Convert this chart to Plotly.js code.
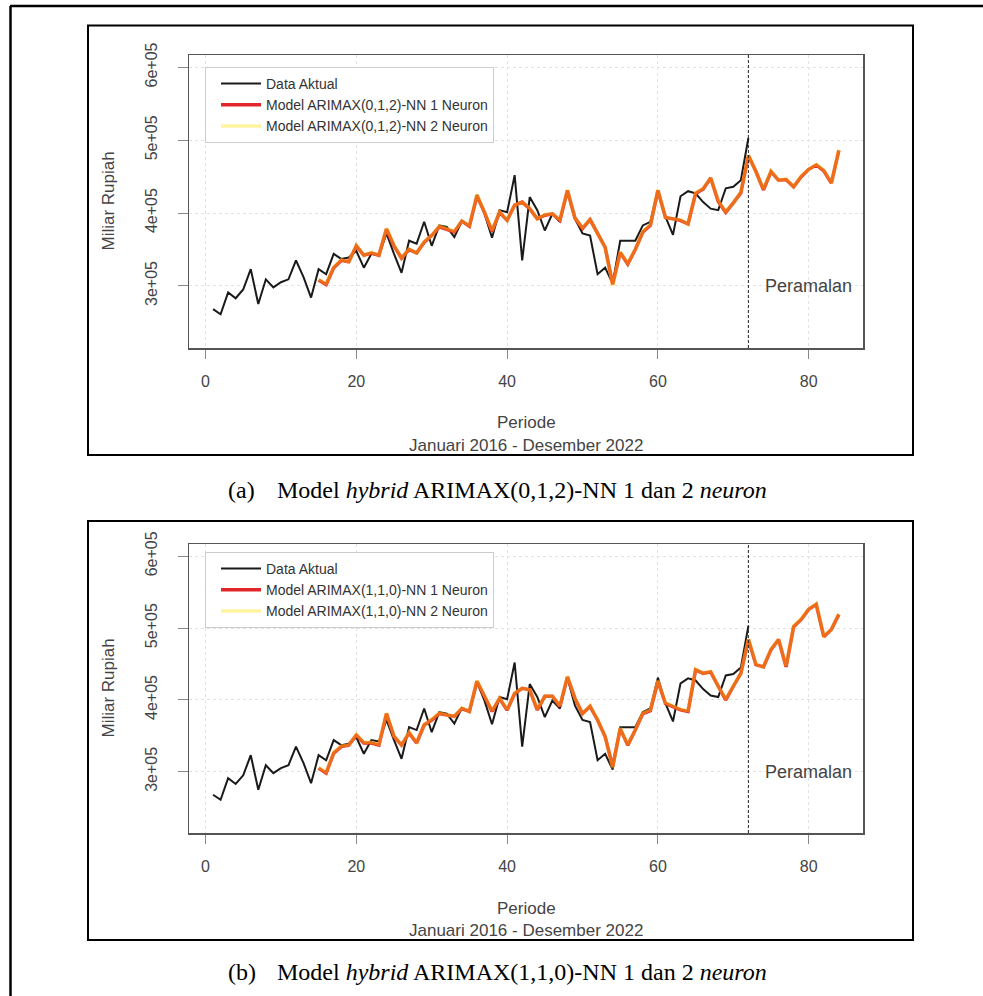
<!DOCTYPE html>
<html><head><meta charset="utf-8">
<script src="https://cdn.plot.ly/plotly-3.0.1.min.js"></script>
<style>html,body{margin:0;padding:0;background:#fff;}#chart{width:983px;height:996px;}</style>
</head><body><div id="chart"></div>
<script>
// ---------- data ----------
const periodActual = [1,2,3,4,5,6,7,8,9,10,11,12,13,14,15,16,17,18,19,20,21,22,23,24,25,26,27,28,29,30,31,32,33,34,35,36,37,38,39,40,41,42,43,44,45,46,47,48,49,50,51,52,53,54,55,56,57,58,59,60,61,62,63,64,65,66,67,68,69,70,71,72];
const actualSales = [268000,261000,291000,283000,295000,323000,275000,309000,298000,305000,
  309000,335000,312000,284000,323000,316000,344000,337000,339000,348000,
  325000,344000,342000,372000,344000,318000,362000,358000,388000,355000,
  383000,381000,367000,389000,383000,425000,399000,366000,404000,401000,
  452000,335000,422000,404000,376000,399000,388000,431000,392000,372000,
  369000,316000,325000,303000,362000,362000,362000,383000,388000,431000,
  395000,370000,423000,430000,427000,415000,406000,404000,434000,436000,445000,503000];
const periodModel = [15,16,17,18,19,20,21,22,23,24,25,26,27,28,29,30,31,32,33,34,35,36,37,38,39,40,41,42,43,44,45,46,47,48,49,50,51,52,53,54,55,56,57,58,59,60,61,62,63,64,65,66,67,68,69,70,71,72,73,74,75,76,77,78,79,80,81,82,83,84];
// (a) ARIMAX(0,1,2)-NN
const modelA1Neuron = [308000,302000,325000,335000,333000,355000,342000,345000,342000,378000,
  355000,338000,350000,345000,360000,369000,381000,378000,374000,389000,
  382000,424000,401000,375000,401000,390000,411000,415000,406000,392000,
  397000,399000,390000,431000,393000,379000,391000,372000,353000,302000,
  346000,330000,350000,374000,383000,431000,394000,392000,390000,385000,
  427000,433000,448000,416000,401000,414000,428000,479000,457000,432000,
  457000,445000,446000,436000,450000,460000,466000,458000,441000,486000];
const modelA2Neuron = [309000,303000,326000,336000,333000,356000,342000,346000,342000,379000,
  356000,338000,351000,345000,361000,369000,382000,378000,375000,389000,
  383000,426000,401000,376000,402000,390000,411000,415000,407000,392000,
  398000,399000,391000,432000,393000,380000,391000,373000,353000,300000,
  347000,331000,350000,375000,384000,432000,394000,392000,391000,385000,
  428000,434000,448000,417000,402000,414000,429000,480000,457000,433000,
  458000,445000,447000,436000,451000,460000,467000,459000,441000,487000];
// (b) ARIMAX(1,1,0)-NN
const modelB1Neuron = [305000,298000,326000,335000,337000,351000,340000,340000,337000,381000,
  349000,337000,354000,340000,365000,372000,381000,379000,377000,388000,
  384000,426000,405000,384000,402000,386000,409000,416000,414000,386000,
  405000,405000,391000,432000,402000,381000,391000,372000,349000,307000,
  360000,337000,358000,381000,385000,426000,395000,391000,386000,384000,
  442000,437000,439000,419000,400000,419000,437000,484000,449000,446000,
  470000,484000,446000,502000,512000,526000,533000,488000,498000,519000];
const modelB2Neuron = [306000,299000,327000,336000,337000,352000,341000,341000,338000,382000,
  350000,337000,355000,341000,365000,373000,382000,379000,377000,389000,
  384000,427000,405000,385000,403000,387000,410000,416000,414000,387000,
  405000,405000,392000,433000,402000,381000,392000,373000,349000,305000,
  361000,338000,358000,382000,386000,427000,396000,391000,387000,385000,
  443000,437000,440000,419000,401000,420000,437000,485000,450000,446000,
  471000,484000,447000,503000,513000,526000,534000,489000,498000,520000];

const xTickVals = [0, 20, 40, 60, 80];
const yTickVals = [300000, 400000, 500000, 600000];
const yTickText = ['3e+05', '4e+05', '5e+05', '6e+05'];
const forecastStart = 72;
const forecastText = 'Peramalan';
const forecastTextPos = [80, 300000];
const seriesNamesA = ['Data Aktual', 'Model ARIMAX(0,1,2)-NN 1 Neuron', 'Model ARIMAX(0,1,2)-NN 2 Neuron'];
const seriesNamesB = ['Data Aktual', 'Model ARIMAX(1,1,0)-NN 1 Neuron', 'Model ARIMAX(1,1,0)-NN 2 Neuron'];
const captionLabels = ['(a)', '(b)'];
const captionTexts = ['Model <i>hybrid</i> ARIMAX(0,1,2)-NN 1 dan 2 <i>neuron</i>',
                      'Model <i>hybrid</i> ARIMAX(1,1,0)-NN 1 dan 2 <i>neuron</i>'];
const xTitle1 = 'Periode';
const xTitle2 = 'Januari 2016 - Desember 2022';
const yTitle = 'Miliar Rupiah';

// ---------- styling / layout ----------
const W = 983, H = 996;
const fx = p => p / W;
const fy = p => 1 - p / H;
const SANS = 'Liberation Sans, Arial, sans-serif';
const SERIF = 'Liberation Serif, Times New Roman, serif';
const TXT = '#444';
const C_ACT = '#1a1a1a', C_RED = '#e3262b', C_YEL = 'rgba(255,226,0,0.38)';

// pixel geometry of the two panels
const P = [
  {boxTop: 55, boxBot: 348, frameTop: 25.5, frameBot: 455, capY: 490, legTop: 67},
  {boxTop: 544, boxBot: 833, frameTop: 521, frameBot: 940, capY: 972, legTop: 552}
];
const boxL = 189, boxR = 863;

function xAxis(i){
  return {
    domain: [fx(boxL), fx(boxR)], range: [-2.19, 87.2], anchor: i ? 'y2' : 'y',
    tickmode: 'array', tickvals: xTickVals, ticktext: xTickVals.map(String),
    ticks: 'outside', ticklen: 9, tickwidth: 1, tickcolor: '#888', ticklabelstandoff: 9,
    showline: true, mirror: true, linecolor: '#555', linewidth: 1.5,
    showgrid: true, gridcolor: '#e2e2e2', griddash: 'dot', gridwidth: 1,
    zeroline: false, fixedrange: true,
    tickfont: {family: SANS, size: 16, color: TXT}
  };
}
function yAxis(i){
  return {
    domain: [fy(P[i].boxBot), fy(P[i].boxTop)], range: [214700, 617000], anchor: i ? 'x2' : 'x',
    tickmode: 'array', tickvals: yTickVals, ticktext: yTickText, tickangle: -90,
    ticks: 'outside', ticklen: 10, tickwidth: 1, tickcolor: '#888', ticklabelstandoff: 14,
    showline: true, mirror: true, linecolor: '#555', linewidth: 1.5,
    showgrid: true, gridcolor: '#e2e2e2', griddash: 'dot', gridwidth: 1,
    zeroline: false, fixedrange: true,
    tickfont: {family: SANS, size: 16, color: TXT}
  };
}
function legendCfg(i){
  return {
    x: fx(205), y: fy(P[i].legTop), xanchor: 'left', yanchor: 'top',
    bgcolor: '#ffffff', bordercolor: '#cccccc', borderwidth: 1,
    font: {family: SANS, size: 14, color: '#333'}, itemwidth: 40, tracegroupgap: 0,
    indentation: 10
  };
}

function traces(i, names, m1, m2){
  const xa = i ? 'x2' : 'x', ya = i ? 'y2' : 'y', lg = i ? 'legend2' : 'legend';
  return [
    {x: periodActual, y: actualSales, name: names[0], type: 'scatter', mode: 'lines',
     line: {color: C_ACT, width: 2}, xaxis: xa, yaxis: ya, legend: lg},
    {x: periodModel, y: m1, name: names[1], type: 'scatter', mode: 'lines',
     line: {color: C_RED, width: 3.5}, xaxis: xa, yaxis: ya, legend: lg},
    {x: periodModel, y: m2, name: names[2], type: 'scatter', mode: 'lines',
     line: {color: C_YEL, width: 3.5}, xaxis: xa, yaxis: ya, legend: lg}
  ];
}

const data = [
  ...traces(0, seriesNamesA, modelA1Neuron, modelA2Neuron),
  ...traces(1, seriesNamesB, modelB1Neuron, modelB2Neuron)
];

const shapes = [
  // page frame (top and left rules)
  {type: 'line', xref: 'paper', yref: 'paper', x0: fx(10), x1: 1, y0: fy(6), y1: fy(6), line: {color: '#000', width: 2.5}},
  {type: 'line', xref: 'paper', yref: 'paper', x0: fx(10.5), x1: fx(10.5), y0: 0, y1: fy(6), line: {color: '#000', width: 2.5}}
];
P.forEach((p, i) => {
  shapes.push({type: 'rect', xref: 'paper', yref: 'paper', x0: fx(88), x1: fx(913), y0: fy(p.frameBot), y1: fy(p.frameTop),
    line: {color: '#000', width: 2}, fillcolor: 'rgba(0,0,0,0)', layer: 'below'});
  shapes.push({type: 'line', xref: i ? 'x2' : 'x', yref: i ? 'y2 domain' : 'y domain',
    x0: forecastStart, x1: forecastStart, y0: 0, y1: 1, line: {color: '#222', width: 1, dash: '3px,2px'}});
});

const annotations = [];
P.forEach((p, i) => {
  const mid = fx((boxL + boxR) / 2);
  annotations.push({xref: 'paper', yref: 'paper', x: mid, y: fy(p.boxBot + 75), text: xTitle1, showarrow: false,
    xanchor: 'center', yanchor: 'middle', font: {family: SANS, size: 17, color: TXT}});
  annotations.push({xref: 'paper', yref: 'paper', x: mid, y: fy(p.boxBot + 97), text: xTitle2, showarrow: false,
    xanchor: 'center', yanchor: 'middle', font: {family: SANS, size: 17, color: TXT}});
  annotations.push({xref: 'paper', yref: 'paper', x: fx(108), y: fy((p.boxTop + p.boxBot) / 2), text: yTitle, showarrow: false,
    textangle: -90, xanchor: 'center', yanchor: 'middle', font: {family: SANS, size: 17, color: TXT}});
  annotations.push({xref: i ? 'x2' : 'x', yref: i ? 'y2' : 'y', x: forecastTextPos[0], y: forecastTextPos[1], text: forecastText,
    showarrow: false, xanchor: 'center', yanchor: 'middle', font: {family: SANS, size: 18, color: TXT}});
  annotations.push({xref: 'paper', yref: 'paper', x: fx(226), y: fy(p.capY), text: captionLabels[i], showarrow: false,
    xanchor: 'left', yanchor: 'middle', font: {family: SERIF, size: 24, color: '#000'}});
  annotations.push({xref: 'paper', yref: 'paper', x: fx(275), y: fy(p.capY), text: captionTexts[i], showarrow: false,
    xanchor: 'left', yanchor: 'middle', font: {family: SERIF, size: 24, color: '#000'}});
});

const layout = {
  width: W, height: H, margin: {l: 0, r: 0, t: 0, b: 0, pad: 0},
  paper_bgcolor: '#fff', plot_bgcolor: '#fff', showlegend: true,
  xaxis: xAxis(0), yaxis: yAxis(0), xaxis2: xAxis(1), yaxis2: yAxis(1),
  legend: legendCfg(0), legend2: legendCfg(1),
  shapes, annotations,
  font: {family: SANS, color: TXT}
};

Plotly.newPlot('chart', data, layout, {displayModeBar: false, staticPlot: true});
</script>
</body></html>
